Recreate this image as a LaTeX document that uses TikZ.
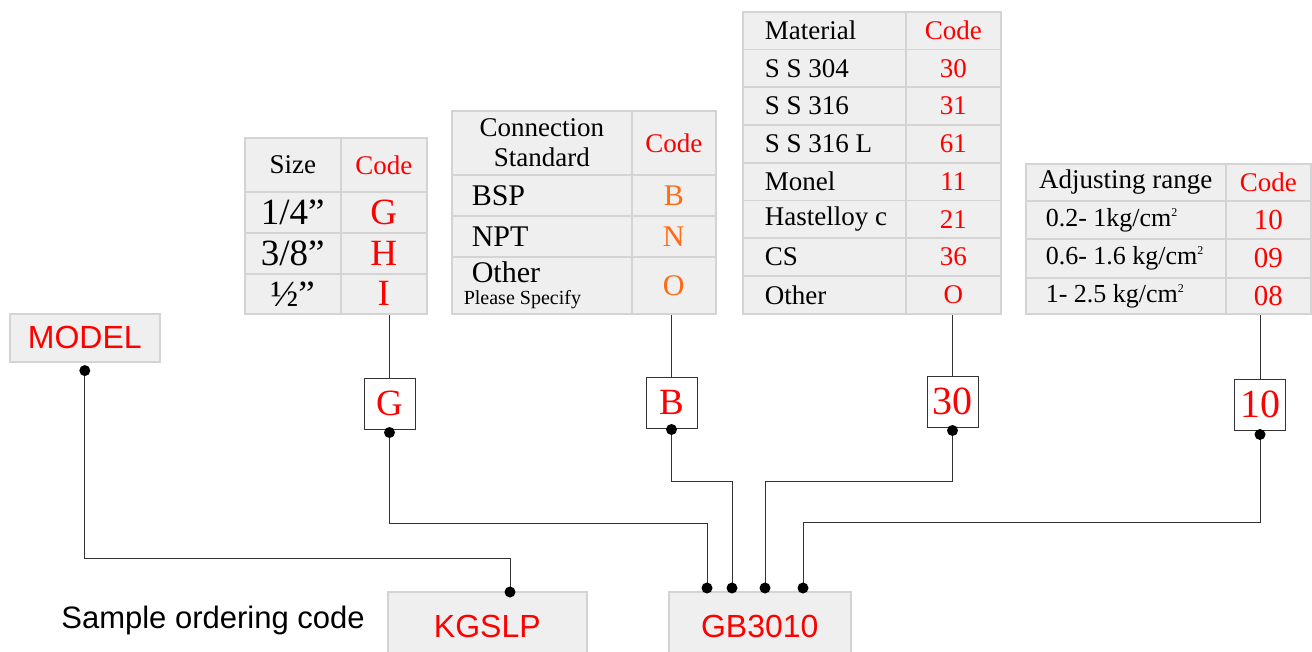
\documentclass[tikz,border=0pt]{standalone}
\usepackage{fontspec}
\setmainfont{Liberation Serif}
\setsansfont{Liberation Sans}
\usetikzlibrary{positioning}
\definecolor{cellfill}{HTML}{EFEFEF}
\definecolor{cellline}{HTML}{D4D4D4}
\definecolor{codered}{HTML}{FF0000}
\definecolor{codeorange}{HTML}{FF6A13}
\definecolor{wire}{HTML}{333333}
\tikzset{
x=1pt, y=-1pt, % one unit is one pixel of the sheet, y grows downwards
cell/.style={draw=cellline, fill=cellfill, line width=1.6pt, anchor=north west, inner sep=0pt, align=center}, % a table cell
lcell/.style 2 args={align=left, text width=#2, execute at begin node={\spaceskip=0pt\xspaceskip=0pt\hspace*{#1}}}, % text starts at the left
hd/.style={font=\fontsize{27}{30}\selectfont}, % table headings
red/.style={text=codered},
orange/.style={text=codeorange},
pick/.style={draw=wire, line width=1pt, fill=white, minimum size=51, inner sep=0pt, text=codered, font=\fontsize{37}{40}\selectfont}, % chosen code
ordbox/.style={draw=cellline, fill=cellfill, line width=1.6pt, anchor=north west, inner sep=0pt, text=codered, font=\sffamily\fontsize{32}{36}\selectfont},
wire/.style={draw=wire, line width=1pt},
}
\newcommand{\sqcm}{\raisebox{10pt}{\fontsize{12}{12}\selectfont 2}}

\begin{document}
\begin{tikzpicture}
\useasboundingbox (0,0) rectangle (1312,652);

% size
\node[cell, hd, minimum width=96, minimum height=54] (sizeH) at (244,137) {Size};
\node[cell, hd, red, minimum width=86, minimum height=54] (sizeHc) at (340,137) {Code};
\node[cell, minimum width=96, minimum height=41, font=\fontsize{37}{40}\selectfont] (size1) at (244,191) {1/4”};
\node[cell, red, minimum width=86, minimum height=41, font=\fontsize{37}{40}\selectfont] (size1c) at (340,191) {G};
\node[cell, minimum width=96, minimum height=41, font=\fontsize{37}{40}\selectfont] (size2) at (244,232) {3/8”};
\node[cell, red, minimum width=86, minimum height=41, font=\fontsize{37}{40}\selectfont] (size2c) at (340,232) {H};
\node[cell, minimum width=96, minimum height=40, font=\fontsize{37}{40}\selectfont] (size3) at (244,273) {½”};
\node[cell, red, minimum width=86, minimum height=40, font=\fontsize{37}{40}\selectfont] (size3c) at (340,273) {I};

% connection
\node[cell, hd, minimum width=180, minimum height=64] (conH) at (451,110) {Connection\\Standard};
\node[cell, hd, red, minimum width=84, minimum height=64] (conHc) at (631,110) {Code};
\node[cell, lcell={20pt}{180}, minimum height=41, font=\fontsize{30}{32}\selectfont] (con1) at (451,174) {BSP};
\node[cell, orange, minimum width=84, minimum height=41, font=\fontsize{30}{32}\selectfont] (con1c) at (631,174) {B};
\node[cell, lcell={20pt}{180}, minimum height=41, font=\fontsize{30}{32}\selectfont] (con2) at (451,215) {NPT};
\node[cell, orange, minimum width=84, minimum height=41, font=\fontsize{30}{32}\selectfont] (con2c) at (631,215) {N};
\node[cell, lcell={20pt}{180}, minimum height=57, font=\fontsize{30}{22}\selectfont] (con3) at (451,256)
  {Other\\\hspace*{12pt}{\fontsize{20}{22}\selectfont Please Specify}};
\node[cell, orange, minimum width=84, minimum height=57, font=\fontsize{30}{32}\selectfont] (con3c) at (631,256) {O};

% material
\node[cell, lcell={22pt}{163}, minimum height=37.75, font=\fontsize{27}{30}\selectfont] (matH) at (742,11) {Material};
\node[cell, red, minimum width=95, minimum height=37.75, font=\fontsize{27}{30}\selectfont] (matHc) at (905,11) {Code};
\foreach \m/\c [count=\i] in {S S 304/30, S S 316/31, S S 316 L/61, Monel/11, Hastelloy c/21, CS/36, Other/O}{
  \node[cell, lcell={22pt}{163}, minimum height=37.75, font=\fontsize{27}{30}\selectfont] (mat\i) at (742,{11+37.75*\i}) {\m};
  \node[cell, red, minimum width=95, minimum height=37.75, font=\fontsize{27}{30}\selectfont] (mat\i c) at (905,{11+37.75*\i}) {\c};
}

% adjusting range
\node[cell, hd, minimum width=200, minimum height=37] (adjH) at (1025,163) {Adjusting range};
\node[cell, hd, red, minimum width=85, minimum height=37] (adjHc) at (1225,163) {Code};
\node[cell, lcell={20pt}{200}, minimum height=38, font=\fontsize{26}{28}\selectfont] (adj1) at (1025,200) {0.2- 1kg/cm\sqcm};
\node[cell, red, minimum width=85, minimum height=38, font=\fontsize{29}{30}\selectfont] (adj1c) at (1225,200) {10};
\node[cell, lcell={20pt}{200}, minimum height=39, font=\fontsize{26}{28}\selectfont] (adj2) at (1025,238) {0.6- 1.6 kg/cm\sqcm};
\node[cell, red, minimum width=85, minimum height=39, font=\fontsize{29}{30}\selectfont] (adj2c) at (1225,238) {09};
\node[cell, lcell={20pt}{200}, minimum height=36, font=\fontsize{26}{28}\selectfont] (adj3) at (1025,277) {1- 2.5 kg/cm\sqcm};
\node[cell, red, minimum width=85, minimum height=36, font=\fontsize{29}{30}\selectfont] (adj3c) at (1225,277) {08};

% picked codes
\node[pick] (pickG) at (389.5,403.5) {G};
\node[pick] (pickB) at (671.5,402.5) {B};
\node[pick, font=\fontsize{40}{42}\selectfont] (pickM) at (952.5,401.5) {30};
\node[pick, font=\fontsize{40}{42}\selectfont] (pickR) at (1260,404.5) {10};

\draw[wire] (pickG.north) -- (pickG.north |- size3c.south);
\draw[wire] (pickB.north) -- (pickB.north |- con3c.south);
\draw[wire] (pickM.north) -- (pickM.north |- mat7c.south);
\draw[wire] (pickR.north) -- (pickR.north |- adj3c.south);

% ordering code
\node[ordbox, minimum width=150, minimum height=48] (model) at (9,313) {MODEL};
\node[font=\sffamily\fontsize{31}{34}\selectfont] (sample) at (213,620) {Sample ordering code};
\node[ordbox, minimum width=199, minimum height=70] (kgslp) at (387,591) {KGSLP};
\node[ordbox, minimum width=182, minimum height=70] (gbcode) at (668,591) {GB3010};

\coordinate[below=8pt of model.south] (dotM);
\coordinate[below=3pt of pickG.south] (dotG);
\coordinate[below=1pt of pickB.south] (dotB);
\coordinate[below=3pt of pickM.south] (dotC);
\coordinate[below=4pt of pickR.south] (dotD);
\coordinate (kgA) at (510,592);
\coordinate (gbA) at (707,588);
\coordinate (gbB) at (732,588);
\coordinate (gbC) at (765,588);
\coordinate (gbD) at (803,588);

\draw[wire] (dotM) -- ++(0,188) -| (kgA);
\draw[wire] (dotG) -- ++(0,91) -| (gbA);
\draw[wire] (dotB) -- ++(0,52) -| (gbB);
\draw[wire] (dotC) -- ++(0,51) -| (gbC);
\draw[wire] (dotD) -- ++(0,88) -| (gbD);

\foreach \d in {dotM, dotG, dotB, dotC, dotD, kgA, gbA, gbB, gbC, gbD}
  \fill (\d) circle (5.5pt);
\end{tikzpicture}
\end{document}
